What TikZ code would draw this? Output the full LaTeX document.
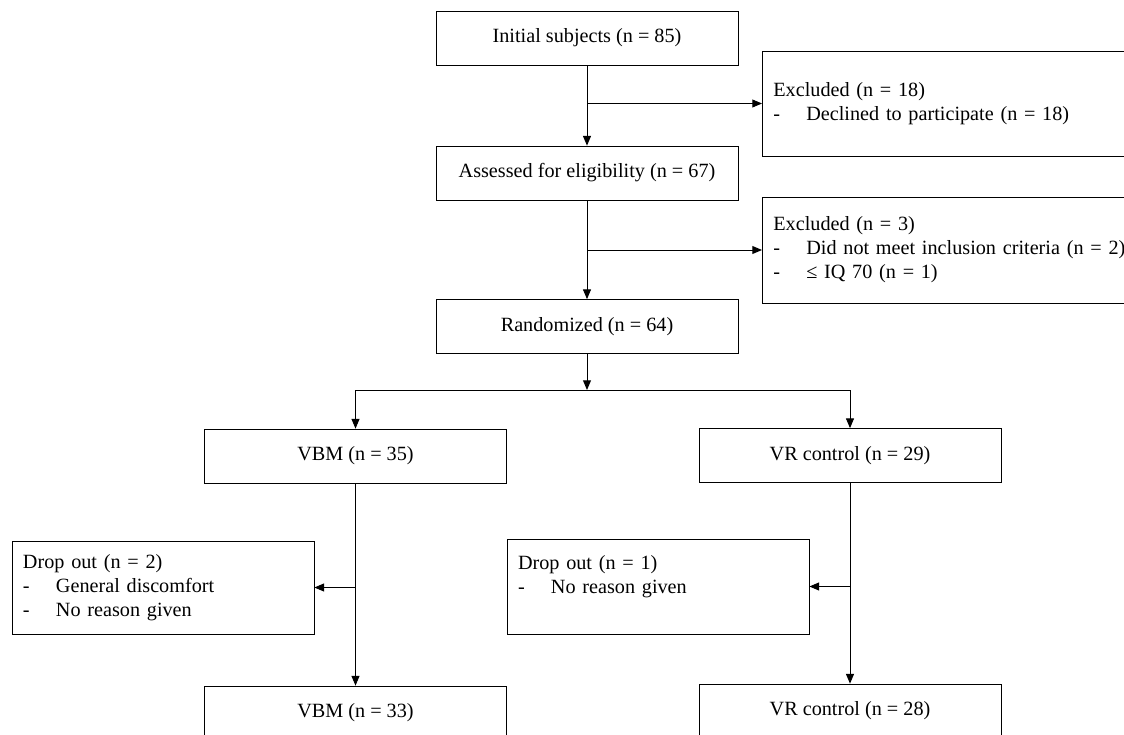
\documentclass[tikz,border=0pt]{standalone}
\usepackage{fontspec}
\setmainfont{Liberation Serif}
\usepackage{tikz}
\usetikzlibrary{positioning,arrows.meta}

\newcommand{\dashitem}{\makebox[0.66cm][l]{-}}

\begin{document}
\begin{tikzpicture} [
	font=\fontsize{11.5}{13.7}\selectfont,
	stage box/.style={
		rectangle,draw=black,thin,
		minimum width=6.04cm,minimum height=1.08cm},
	excl box/.style={
		rectangle,draw=black,thin,anchor=west,
		align=left,text width=8cm,inner xsep=0.22cm,
		minimum height=2.1cm},
	drop box/.style={
		rectangle,draw=black,thin,
		align=left,text width=5.6cm,inner xsep=0.22cm,
		minimum height=1.86cm},
	tip/.style={
		-{Triangle[length=5.5pt,width=4.5pt]},line width=0.55pt},
	link/.style={
		line width=0.55pt}]
\useasboundingbox (0,0) rectangle (22.48,-14.7);
\node[stage box] (initial) 		at (11.74,-0.76) {Initial subjects (n = 85)};
\node[stage box] (assessed) 		at (11.74,-3.46) {Assessed for eligibility (n = 67)};
\node[stage box] (randomized) 	at (11.74,-6.53) {Randomized (n = 64)};
\node[excl box] (excl declined) 	at (15.24,-2.07) {Excluded (n = 18)\\
	\dashitem Declined to participate (n = 18)};
\node[excl box,minimum height=2.12cm] (excl criteria) at (15.24,-5.0) {Excluded (n = 3)\\
	\dashitem Did not meet inclusion criteria (n = 2)\\
	\dashitem ≤ IQ 70 (n = 1)};
\node[stage box] (vbm start) 		at (7.11,-9.12) {VBM (n = 35)};
\node[stage box] (vr start) 		at (17.0,-9.11) {VR control (n = 29)};
\node[drop box] (drop vbm) 		at (3.26,-11.75) {Drop out (n = 2)\\
	\dashitem General discomfort\\
	\dashitem No reason given};
\node[drop box,minimum height=1.9cm] (drop vr) at (13.16,-11.73) {Drop out (n = 1)\\
	\dashitem No reason given\\ ~};
\node[stage box] (vbm end) 		at (7.11,-14.26) {VBM (n = 33)};
\node[stage box] (vr end) 		at (17.0,-14.22) {VR control (n = 28)};
\coordinate (split) at (11.74,-7.8);
\draw[tip] (initial.south) -- (assessed.north);
\draw[tip] (initial.south |- excl declined.west) -- (excl declined.west);
\draw[tip] (assessed.south) -- (randomized.north);
\draw[tip] (assessed.south |- excl criteria.west) -- (excl criteria.west);
\draw[tip] (randomized.south) -- (split);
\draw[tip] (split) -| (vbm start.north);
\draw[tip] (split) -| (vr start.north);
\draw[tip] (vbm start.south) -- (vbm end.north);
\draw[tip] (vbm start.south |- drop vbm.east) -- (drop vbm.east);
\draw[tip] (vr start.south) -- (vr end.north);
\draw[tip] (vr start.south |- drop vr.east) -- (drop vr.east);
\end{tikzpicture}
\end{document}
